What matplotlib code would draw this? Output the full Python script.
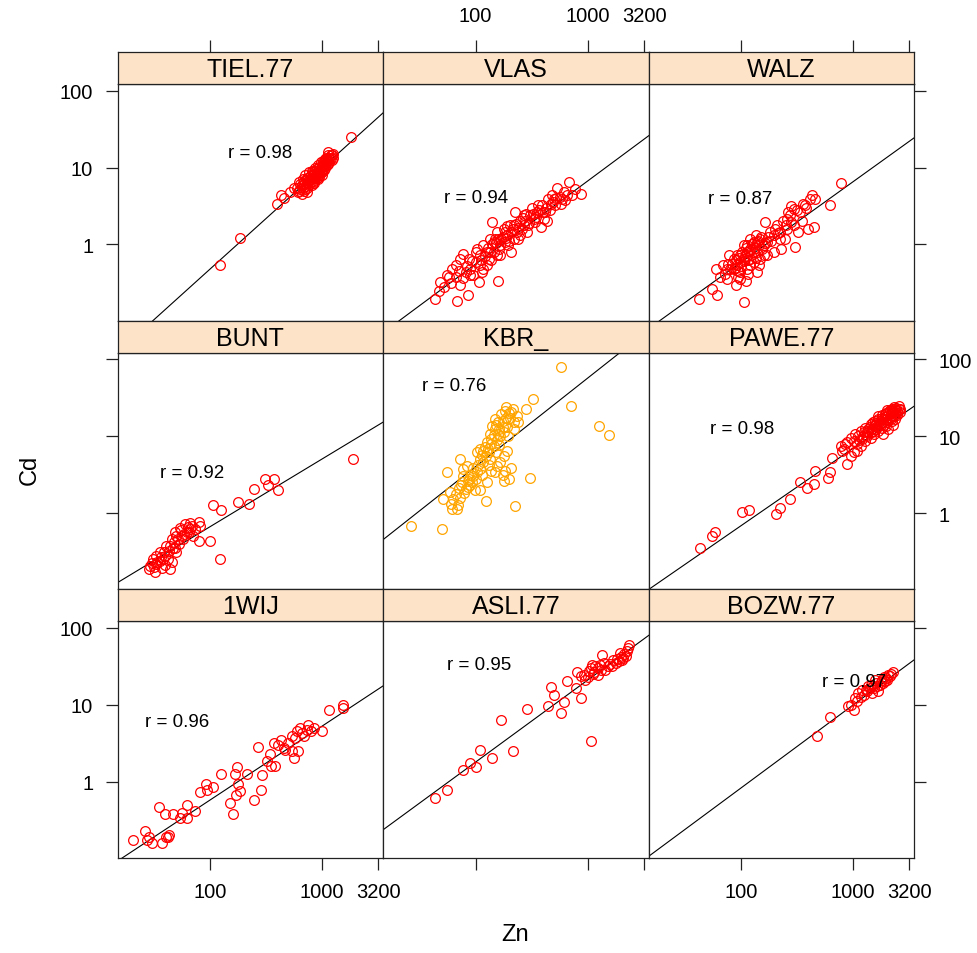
import numpy as np
import matplotlib
matplotlib.use("Agg")
import matplotlib.pyplot as plt
from matplotlib.ticker import NullLocator

plt.rcParams['font.family'] = ['Liberation Sans', 'DejaVu Sans']

# ---------------- data (log10 Zn, log10 Cd) ----------------
panel_names = ["TIEL.77", "VLAS", "WALZ",
               "BUNT", "KBR_", "PAWE.77",
               "1WIJ", "ASLI.77", "BOZW.77"]

tiel_pts = [(2.09,-0.27),(2.27,0.08),(2.60,0.53),(2.64,0.64),(2.66,0.60),(2.72,0.68),(2.75,0.74),(3.26,1.39),(3.06,1.20),
            (2.78,0.74),(2.79,0.68),(2.80,0.81),(2.81,0.72),(2.82,0.77),(2.83,0.85),(2.84,0.70),(2.84,0.79),(2.85,0.90),
            (2.87,0.81),(2.87,0.74),(2.88,0.87),(2.89,0.94),(2.90,0.81),(2.90,0.85),(2.91,0.96),(2.92,0.90),(2.93,0.83),
            (2.93,0.94),(2.94,1.00),(2.95,0.92),(2.96,0.87),(2.96,0.98),(2.97,1.03),(2.98,0.94),(2.99,1.00),(2.99,1.07),
            (3.00,0.97),(3.01,1.03),(3.01,1.09),(3.02,1.03),(3.03,1.11),(3.04,1.06),(3.04,1.13),(3.05,1.08),(3.06,1.16),
            (3.07,1.12),(3.08,1.16),(3.10,1.13),(3.10,1.18),(2.85,0.72),(2.89,0.77),(2.93,0.80),(2.97,0.90),(3.00,0.94),
            (3.03,0.99),(3.06,1.05),(2.91,0.77),(2.87,0.68),(2.82,0.66),
            (2.80,0.70),(2.81,0.78),(2.83,0.74),(2.84,0.82),(2.86,0.76),(2.86,0.84),(2.88,0.80),(2.89,0.84),(2.90,0.90),
            (2.91,0.86),(2.92,0.80),(2.92,0.95),(2.94,0.86),(2.94,0.96),(2.95,0.88),(2.96,0.93),(2.97,0.96),(2.98,0.88),
            (2.98,1.01),(2.99,0.95),(3.00,1.02),(3.01,0.98),(3.02,1.07),(3.02,0.97),(3.03,1.02),(3.04,1.09),(3.05,1.03),
            (3.06,1.10),(3.07,1.07),(3.08,1.13),(3.09,1.10),(3.09,1.16),(2.87,0.87),(2.93,0.88),(2.97,0.85),(3.00,0.90)]

vlas_pts = [(1.64,-0.71),(1.67,-0.60),(1.68,-0.49),(1.76,-0.42),(1.83,-0.73),(1.93,-0.65),(1.79,-0.32),(1.82,-0.27),
            (1.86,-0.53),(1.91,-0.36),(1.89,-0.12),(1.94,-0.19),(2.01,-0.06),(2.03,-0.49),(2.06,-0.36),(2.10,-0.27),
            (2.12,-0.19),(2.13,-0.10),(2.16,0.03),(2.15,0.29),(2.20,-0.47),(2.19,0.16),(2.22,-0.01),(2.23,0.07),
            (2.25,0.20),(2.28,0.12),(2.31,0.25),(2.32,-0.10),(2.34,0.07),(2.37,0.16),(2.35,0.42),(2.40,0.31),
            (2.43,0.25),(2.46,0.16),(2.49,0.38),(2.50,0.48),(2.53,0.29),(2.55,0.42),(2.58,0.23),(2.59,0.51),
            (2.62,0.42),(2.64,0.31),(2.67,0.53),(2.68,0.64),(2.71,0.51),(2.73,0.74),(2.76,0.53),(2.77,0.59),
            (2.82,0.64),(2.83,0.81),(2.86,0.64),(2.89,0.72),(2.94,0.66),(1.95,-0.32),(2.00,-0.23),(2.04,-0.14),
            (2.07,-0.01),(2.17,0.07),(2.26,0.03),(2.38,0.07),(2.43,0.38),(2.52,0.33),(2.56,0.51),(2.61,0.33),
            (2.65,0.59),(2.70,0.59),(2.19,-0.14),(2.13,0.07),(2.07,-0.32),(1.98,-0.40),(1.86,-0.19),(1.74,-0.40),
            (2.16,-0.10),(2.22,-0.14),(2.29,-0.01),(2.32,0.16),(2.40,0.12),(2.47,0.25),(2.34,0.25),(2.26,0.16),
            (2.20,0.07),(2.10,-0.10),(2.04,-0.27),(1.95,-0.40),(1.89,-0.44),(1.82,-0.42),
            (2.05,-0.20),(2.08,-0.15),(2.11,-0.05),(2.14,-0.20),(2.15,0.00),(2.18,0.02),(2.21,-0.06),(2.24,0.10),
            (2.27,0.08),(2.28,0.24),(2.30,0.05),(2.33,0.20),(2.36,0.27),(2.38,0.22),(2.41,0.20),(2.42,0.35),
            (2.44,0.30),(2.45,0.40),(2.48,0.28),(2.51,0.40),(2.54,0.36),(2.57,0.45),(2.60,0.42),(2.63,0.48),
            (2.66,0.45),(2.69,0.55),(2.72,0.60),(2.75,0.62),(2.79,0.68),(2.80,0.58),(1.97,-0.22),(2.00,-0.10),
            (1.92,-0.28),(1.85,-0.35),(1.78,-0.50),(1.72,-0.55)]

walz_pts = [(1.62,-0.71),(1.74,-0.58),(1.78,-0.66),(2.02,-0.75),(1.77,-0.32),(1.81,-0.42),(1.87,-0.45),(1.95,-0.53),
            (1.99,-0.45),(2.04,-0.47),(1.90,-0.32),(1.96,-0.27),(1.84,-0.27),(1.89,-0.14),(1.93,-0.19),(1.99,-0.14),
            (2.05,-0.10),(2.02,-0.01),(2.08,-0.06),(2.11,0.03),(2.14,-0.10),(2.16,-0.27),(2.17,-0.19),(2.08,0.07),
            (2.13,0.12),(2.17,0.07),(2.21,0.29),(2.20,-0.01),(2.23,0.03),(2.26,0.16),(2.29,0.12),(2.32,0.25),
            (2.35,0.16),(2.36,-0.06),(2.39,0.07),(2.41,0.33),(2.42,0.42),(2.45,0.29),(2.47,0.46),(2.48,-0.03),
            (2.51,0.16),(2.54,0.31),(2.57,0.51),(2.60,0.20),(2.62,0.59),(2.63,0.64),(2.65,0.23),(2.66,0.59),
            (2.80,0.51),(2.89,0.80),(1.99,-0.36),(2.05,-0.32),(2.11,-0.23),(2.23,-0.14),(2.29,-0.10),(2.35,0.07),
            (2.41,0.20),(2.47,0.25),(2.53,0.42),(2.14,-0.36),(2.08,-0.19),(1.96,-0.14),(2.02,-0.19),(2.05,-0.01),
            (2.11,-0.10),(2.16,-0.01),(2.20,-0.14),(1.99,-0.23),(1.93,-0.32),(1.87,-0.32),(2.08,-0.27),(2.14,0.03),
            (2.19,-0.06),
            (1.92,-0.25),(1.94,-0.30),(1.95,-0.20),(1.97,-0.35),(1.98,-0.18),(2.00,-0.28),(2.01,-0.10),(2.02,-0.22),
            (2.03,-0.15),(2.04,-0.05),(2.06,-0.20),(2.07,-0.08),(2.09,-0.13),(2.10,0.00),(2.12,-0.05),(2.13,-0.17),
            (2.15,0.05),(2.18,0.10),(2.21,0.02),(2.24,0.10),(2.27,0.05),(2.30,0.20),(2.33,0.15),(2.37,0.30),
            (2.40,0.25),(2.44,0.38),(2.50,0.45),(2.55,0.52),(2.58,0.48),(2.45,0.50),(1.88,-0.25),(1.85,-0.38),
            (1.97,-0.42),(2.06,-0.38)]

bunt_pts = [(3.28,0.71),(2.49,0.45),(2.57,0.45),(2.52,0.36),(2.61,0.30),(2.39,0.32),(2.25,0.14),(2.35,0.12),
            (2.03,0.10),(2.10,0.04),(1.90,-0.11),(1.82,-0.13),(1.78,-0.14),(1.91,-0.16),(1.87,-0.21),(1.73,-0.19),
            (1.69,-0.25),(1.79,-0.25),(1.85,-0.29),(1.76,-0.34),(1.66,-0.34),(1.61,-0.42),(1.72,-0.40),(1.63,-0.49),
            (1.55,-0.51),(1.52,-0.56),(1.58,-0.60),(1.49,-0.60),(1.70,-0.51),(1.90,-0.36),(2.00,-0.36),(2.09,-0.59),
            (1.45,-0.73),(1.51,-0.77),(1.64,-0.72),(1.52,-0.66),(1.57,-0.71),(1.66,-0.64),(1.46,-0.68),(1.82,-0.21),
            (1.60,-0.55),(1.67,-0.45),(1.75,-0.30),(1.55,-0.62),(1.62,-0.60),(1.80,-0.18),(1.70,-0.30),
            (1.53,-0.64),(1.56,-0.57),(1.59,-0.50),(1.64,-0.42),(1.68,-0.37),(1.71,-0.33),(1.74,-0.22),(1.77,-0.27),
            (1.81,-0.24),(1.84,-0.17),(1.50,-0.70),(1.48,-0.65),(1.60,-0.67),(1.69,-0.45)]

kbr_pts = [(2.76,1.90),(2.51,1.49),(2.85,1.39),(3.10,1.13),(3.19,1.01),(2.45,1.35),(1.42,-0.16),(1.70,-0.21),
           (2.35,0.09),(2.49,0.46),(2.09,0.16),(2.04,0.30),(2.25,0.42),(2.26,0.55),(2.17,0.53),(2.32,0.59),
           (1.74,0.53),(1.86,0.70),(1.89,0.48),(1.94,0.44),(1.71,0.18),(1.83,0.05),(1.77,0.27),(1.85,0.33),
           (1.98,0.59),(2.04,0.70),(2.07,0.81),(2.10,0.92),(2.13,1.03),(2.17,1.09),(2.20,1.18),(2.23,1.29),
           (2.26,1.33),(2.32,1.31),(2.29,1.22),(2.34,1.18),(2.37,1.26),(2.22,1.00),(2.16,0.87),(2.12,0.79),
           (2.04,0.57),(1.98,0.48),(1.95,0.36),(1.91,0.31),(1.80,0.18),(1.88,0.40),(2.01,0.53),(2.19,0.61),
           (2.25,0.74),(2.29,1.00),(2.34,1.09),(2.38,1.18),(2.17,1.22),(2.20,1.03),(2.15,1.13),(2.04,0.83),
           (2.01,0.79),(1.92,0.61),(2.07,0.66),(2.13,0.70),(2.28,0.81),(2.22,0.66),(1.89,0.57),(2.27,1.38),
           (2.31,1.24),(2.24,1.12),(2.19,0.95),(2.14,0.90),(2.09,0.74),(1.96,0.50),(1.93,0.42),(1.87,0.37),
           (1.82,0.25),(1.78,0.12),
           (2.02,0.62),(2.06,0.75),(2.08,0.86),(2.11,0.84),(2.14,0.96),(2.16,1.01),(2.18,1.15),(2.21,1.10),
           (2.24,1.20),(2.27,1.24),(2.30,1.30),(2.33,1.36),(2.28,1.12),(2.25,1.05),(2.21,0.88),(2.18,0.80),
           (2.12,0.62),(1.86,0.20),(1.90,0.26),(1.93,0.34),(1.97,0.40),(1.99,0.30),(1.84,0.10),(1.79,0.05),
           (2.00,0.45),(2.06,0.50),(2.14,0.55),(2.24,0.50),(2.10,0.40),(2.30,0.45)]

pawe_pts = [(1.63,-0.45),(1.74,-0.29),(1.76,-0.25),(2.01,0.01),(2.07,0.04),(2.31,-0.01),(2.35,0.07),(2.44,0.18),
            (2.53,0.40),(2.59,0.33),(2.65,0.38),(2.66,0.55),(2.78,0.46),(2.80,0.53),(2.81,0.72),(2.90,0.81),
            (2.95,0.64),(2.93,0.90),(2.98,0.74),(3.01,0.79),(2.95,0.92),(2.98,0.98),(3.01,0.94),(3.02,1.03),
            (3.04,0.90),(3.05,1.00),(3.07,1.07),(3.08,0.96),(3.10,1.05),(3.11,1.11),(3.13,1.00),(3.14,1.09),
            (3.16,1.16),(3.17,1.05),(3.19,1.13),(3.20,1.20),(3.21,1.09),(3.23,1.22),(3.24,1.16),(3.26,1.24),
            (3.27,1.18),(3.29,1.29),(3.30,1.22),(3.32,1.31),(3.33,1.24),(3.35,1.33),(3.36,1.26),(3.38,1.35),
            (3.39,1.29),(3.41,1.36),(3.42,1.31),(3.07,0.87),(3.11,0.94),(3.16,0.98),(3.19,1.03),(3.23,1.07),
            (3.26,1.11),(3.30,1.13),(3.35,1.20),(3.38,1.22),(2.89,0.87),(2.92,0.83),(3.04,0.81),(3.36,1.14),
            (3.32,1.09),(3.27,1.03),
            (3.12,1.02),(3.14,1.05),(3.15,1.12),(3.17,1.10),(3.18,1.18),(3.20,1.14),(3.21,1.17),(3.22,1.12),
            (3.23,1.26),(3.24,1.20),(3.25,1.15),(3.26,1.28),(3.27,1.22),(3.28,1.14),(3.29,1.25),(3.30,1.30),
            (3.31,1.18),(3.31,1.34),(3.32,1.27),(3.33,1.34),(3.34,1.22),(3.34,1.30),(3.35,1.36),(3.36,1.31),
            (3.37,1.28),(3.37,1.38),(3.38,1.32),(3.39,1.37),(3.40,1.33),(3.40,1.27),(3.41,1.39),(3.42,1.35),
            (3.09,1.00),(3.06,0.95),(3.13,1.07),(3.18,1.07)]

wij_pts = [(1.31,-0.76),(1.42,-0.64),(1.44,-0.76),(1.48,-0.79),(1.57,-0.79),(1.61,-0.71),(1.63,-0.69),(1.54,-0.33),
           (1.60,-0.42),(1.67,-0.42),(1.73,-0.47),(1.75,-0.40),(1.79,-0.30),(1.79,-0.47),(1.87,-0.38),(1.91,-0.13),
           (1.96,-0.03),(1.97,-0.10),(2.03,-0.07),(2.10,0.10),(2.18,-0.27),(2.21,-0.42),(2.22,0.10),(2.24,0.19),
           (2.25,-0.03),(2.27,-0.12),(2.23,-0.17),(2.33,0.10),(2.39,-0.23),(2.43,0.45),(2.46,-0.10),(2.47,0.09),
           (2.51,0.27),(2.54,0.36),(2.57,0.51),(2.58,0.20),(2.64,0.55),(2.66,0.44),(2.70,0.51),(2.73,0.40),
           (2.75,0.31),(2.76,0.57),(2.78,0.66),(2.79,0.40),(2.81,0.70),(2.84,0.59),(2.88,0.74),(2.90,0.66),
           (2.93,0.70),(3.00,0.66),(3.07,0.94),(3.19,1.00),(3.19,0.96),(2.73,0.59),(2.67,0.42),(2.82,0.64),
           (2.87,0.68),(2.61,0.48),(2.55,0.20),(1.62,-0.72),(1.45,-0.72)]

asli_pts = [(1.64,-0.21),(1.74,-0.11),(1.89,0.16),(1.95,0.25),(2.00,0.19),(2.04,0.41),(2.15,0.31),(2.23,0.81),
            (2.33,0.40),(2.46,0.95),(2.65,0.98),(2.67,1.23),(2.76,0.90),(2.79,1.04),(2.82,1.31),(2.90,1.22),
            (2.94,1.09),(3.03,0.53),(2.91,1.43),(2.94,1.37),(2.98,1.33),(3.01,1.44),(3.04,1.52),(3.06,1.43),
            (3.09,1.48),(3.11,1.52),(3.13,1.65),(3.16,1.46),(3.20,1.53),(3.25,1.55),(3.28,1.57),(3.32,1.61),
            (3.34,1.63),(3.36,1.74),(3.37,1.78),(2.70,1.13),(3.03,1.48),(3.09,1.39),(3.23,1.59),(3.29,1.68),
            (2.97,1.39),
            (3.00,1.36),(3.05,1.40),(3.07,1.50),(3.12,1.45),(3.15,1.55),(3.18,1.50),(3.22,1.50),(3.26,1.60),
            (3.30,1.62),(3.33,1.66),(3.35,1.70),(3.31,1.58)]

bozw_pts = [(2.68,0.59),(2.80,0.84),(2.96,0.98),(3.01,0.94),(3.02,1.09),(3.05,1.16),(3.08,1.20),(3.13,1.18),
            (3.16,1.26),(3.19,1.22),(3.21,1.29),(3.23,1.18),(3.26,1.33),(3.29,1.31),(3.32,1.39),(3.36,1.43),
            (3.04,1.05),(3.10,1.13),(3.17,1.16),(3.20,1.33),(3.24,1.26),(3.30,1.35),(3.33,1.37),(3.14,1.24),
            (2.98,1.00),
            (3.12,1.20),(3.15,1.22),(3.18,1.25),(3.22,1.24),(3.25,1.30),(3.27,1.28),(3.31,1.33),(3.34,1.40),
            (3.07,1.10),(3.28,1.36)]

panel_points = [tiel_pts, vlas_pts, walz_pts, bunt_pts, kbr_pts, pawe_pts, wij_pts, asli_pts, bozw_pts]

# fitted line (log10 Cd = intercept + slope * log10 Zn)
fit_intercept = [-2.94, -2.41, -2.31, -1.93, -1.69, -2.16, -2.15, -1.87, -2.22]
fit_slope     = [ 1.31,  1.078, 1.041, 0.877, 1.148, 1.00,  0.957, 1.064, 1.072]

r_labels = ["r = 0.98", "r = 0.94", "r = 0.87",
            "r = 0.92", "r = 0.76", "r = 0.98",
            "r = 0.96", "r = 0.95", "r = 0.97"]
r_label_pos = [(2.45, 1.20), (2.00, 0.61), (1.99, 0.60),
               (1.84, 0.53), (1.81, 1.66), (2.01, 1.10),
               (1.71, 0.78), (2.03, 1.53), (3.01, 1.31)]

point_colors = ["red", "red", "red", "red", "#ffa500", "red", "red", "red", "red"]

x_ticks = [100, 1000, 3200]
x_ticklabels = ["100", "1000", "3200"]
y_ticks = [1, 10, 100]
y_ticklabels = ["1", "10", "100"]
xlim_log = (1.172, 3.549)
ylim_log = (-0.99, 2.085)

# ---------------- layout ----------------
W, H = 977, 954
fig = plt.figure(figsize=(W / 100, H / 100), dpi=100)
col_x = [117.5, 383, 649, 914]
row_top0 = 53.0
row_step = 268.7
strip_h = 32.0
tick_len = 8.5
strip_color = "#fde3c8"

for idx, name in enumerate(panel_names):
    r, c = divmod(idx, 3)
    top = row_top0 + row_step * r
    x0, x1 = col_x[c], col_x[c + 1]
    ph = row_step - strip_h
    ax = fig.add_axes([x0 / W, 1 - (top + row_step) / H, (x1 - x0) / W, ph / H])
    sax = fig.add_axes([x0 / W, 1 - (top + strip_h) / H, (x1 - x0) / W, strip_h / H])

    xlim = (10 ** xlim_log[0], 10 ** xlim_log[1])
    ylim = (10 ** ylim_log[0], 10 ** ylim_log[1])
    for a in (ax, sax):
        a.set_xscale("log")
        a.set_xlim(*xlim)
        a.xaxis.set_minor_locator(NullLocator())
        for sp in a.spines.values():
            sp.set_linewidth(0.9)
            sp.set_color("#222222")
    ax.set_yscale("log")
    ax.set_ylim(*ylim)
    ax.yaxis.set_minor_locator(NullLocator())

    ax.set_xticks(x_ticks)
    ax.set_xticklabels(x_ticklabels)
    ax.set_yticks(y_ticks)
    ax.set_yticklabels(y_ticklabels)
    ax.tick_params(direction="out", length=tick_len, width=0.9, labelsize=14.5, colors="#222222",
                   labelcolor="black", pad=9,
                   bottom=(r == 2), labelbottom=(r == 2 and c in (0, 2)),
                   top=False, labeltop=False,
                   left=(c == 0), labelleft=(c == 0 and r in (0, 2)),
                   right=(c == 2), labelright=(c == 2 and r == 1))

    # strip
    sax.set_facecolor(strip_color)
    sax.set_yticks([])
    sax.set_xticks(x_ticks)
    sax.set_xticklabels(x_ticklabels)
    sax.tick_params(axis="x", direction="out", length=tick_len, width=0.9, labelsize=14.5,
                    colors="#222222", labelcolor="black", pad=11,
                    bottom=False, labelbottom=False,
                    top=(r == 0), labeltop=(r == 0 and c == 1))
    sax.text(0.5, 0.47, name, transform=sax.transAxes, ha="center", va="center",
             fontsize=18, color="black")

    # points
    pts = np.array(panel_points[idx])
    zn = 10 ** pts[:, 0]
    cd = 10 ** pts[:, 1]
    ax.plot(zn, cd, linestyle="none", marker="o", markersize=7, markerfacecolor="none",
            markeredgecolor=point_colors[idx], markeredgewidth=0.9, zorder=3)

    # regression line across the panel
    lx = np.array(xlim_log)
    ly = fit_intercept[idx] + fit_slope[idx] * lx
    ax.plot(10 ** lx, 10 ** ly, color="black", linewidth=0.8, zorder=2)

    # r label
    tx, ty = r_label_pos[idx]
    ax.text(10 ** tx, 10 ** ty, r_labels[idx], ha="center", va="center", fontsize=13.5,
            color="black", zorder=4)

fig.text(515 / W, 1 - 935 / H, "Zn", ha="center", va="center", fontsize=17)
fig.text(30 / W, 1 - 470 / H, "Cd", ha="center", va="center", fontsize=17, rotation=90)

fig.savefig("out.png", dpi=100)
